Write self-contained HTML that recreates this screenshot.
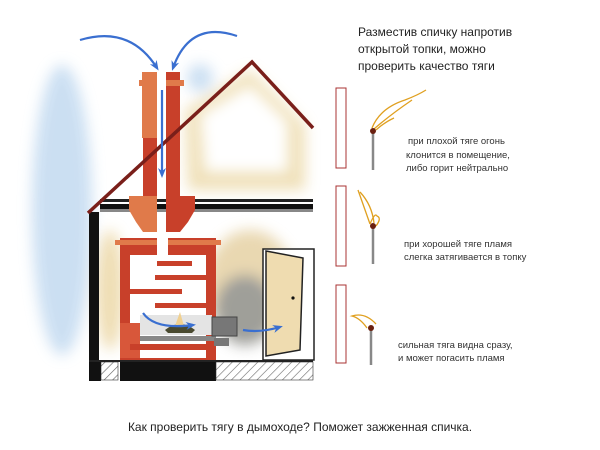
<!DOCTYPE html>
<html><head><meta charset="utf-8"><style>
html,body{margin:0;padding:0;background:#fff;}
svg{display:block}
text{font-family:"Liberation Sans",sans-serif;}
</style></head><body>
<svg width="600" height="450" viewBox="0 0 600 450" xmlns="http://www.w3.org/2000/svg">
<defs>
<filter id="b" x="-50%" y="-50%" width="200%" height="200%"><feGaussianBlur stdDeviation="7"/></filter>
<pattern id="h" width="6" height="6" patternUnits="userSpaceOnUse" patternTransform="rotate(45)"><rect width="6" height="6" fill="#fff"/><line x1="0" y1="0" x2="0" y2="6" stroke="#666" stroke-width="1.2"/></pattern>
<marker id="ar" markerUnits="userSpaceOnUse" markerWidth="10" markerHeight="10" refX="7" refY="5" orient="auto"><path d="M0,1 L10,5 L0,9 L3,5 Z" fill="#3a6fd0"/></marker>
</defs>
<g filter="url(#b)" opacity="0.95">
<ellipse cx="62" cy="210" rx="30" ry="145" fill="#c9def2"/>
<ellipse cx="200" cy="78" rx="13" ry="14" fill="#c9def2"/>
<path d="M185,110 L250,70 L305,125 L305,190 L188,190 Z" fill="#efdfb6"/>
<ellipse cx="110" cy="290" rx="14" ry="60" fill="#eedcb0"/>
<ellipse cx="250" cy="285" rx="45" ry="55" fill="#e8d6ad"/>
<ellipse cx="245" cy="310" rx="30" ry="35" fill="#9a9a94"/>
</g>
<path d="M200,115 L250,85 L288,122 L288,172 L205,172 Z" fill="#fff" filter="url(#b)"/>
<rect x="100" y="199" width="213" height="3" fill="#222"/>
<rect x="100" y="204" width="213" height="6" fill="#111"/>
<rect x="100" y="209" width="213" height="3" fill="#888"/>
<rect x="89" y="212" width="10" height="168" fill="#111"/>
<g fill="#c8402a">
<rect x="143" y="72" width="14" height="128"/>
<rect x="166" y="72" width="14" height="128"/>
<rect x="139" y="80" width="18" height="6" fill="#e07a4a"/>
<rect x="166" y="80" width="18" height="6" fill="#e07a4a"/>
<rect x="142" y="72" width="15" height="66" fill="#e07a4a"/>
<path d="M129,196 L157,196 L157,232 L143,232 L136,222 L129,210 Z" fill="#e07a4a"/>
<path d="M166,196 L195,196 L195,210 L188,222 L180,232 L166,232 Z"/>
<path d="M120,238 L157,238 L157,262 L168,262 L168,238 L216,238 L216,360 L120,360 Z"/>
<rect x="115" y="240" width="106" height="5" fill="#e07a4a"/>
</g>
<polyline points="88,213 252,62 313,128" fill="none" stroke="#7a1f1a" stroke-width="3.5"/>
<rect x="130" y="255" width="76" height="103" fill="#fff"/>
<rect x="157" y="238" width="11" height="24" fill="#fff"/>
<g fill="#c8402a">
<rect x="157" y="261" width="35" height="5"/>
<rect x="155" y="275" width="51" height="5"/>
<rect x="130" y="289" width="52" height="5"/>
<rect x="155" y="303" width="51" height="5"/>
<rect x="120" y="323" width="20" height="35" fill="#d8573a"/>
<rect x="130" y="344" width="86" height="6"/>
</g>
<rect x="140" y="336" width="76" height="5" fill="#888"/>
<rect x="140" y="315" width="72" height="20" fill="#e4e4e4"/>
<rect x="212" y="317" width="25" height="19" fill="#777" stroke="#444"/>
<rect x="214" y="338" width="15" height="8" fill="#777"/>
<path d="M165,330 Q180,318 195,330 L192,333 L168,333Z" fill="#4a4a30"/>
<path d="M175,326 L180,312 L184,326" fill="#f0d090"/>
<rect x="120" y="362" width="96" height="19" fill="#111"/>
<rect x="89" y="362" width="12" height="19" fill="#111"/>
<rect x="101" y="362" width="17" height="18" fill="url(#h)" stroke="#333" stroke-width="0.6"/>
<rect x="216" y="362" width="97" height="18" fill="url(#h)" stroke="#333" stroke-width="0.6"/>
<rect x="89" y="360" width="224" height="2" fill="#222"/>
<rect x="263" y="249" width="51" height="111" fill="#fff" stroke="#222" stroke-width="1.5"/>
<path d="M266,251 L303,258 L300,350 L266,356 Z" fill="#efdcb0" stroke="#222" stroke-width="1.5"/>
<circle cx="293" cy="298" r="1.6" fill="#111"/>
<g fill="none" stroke="#3a6fd0" stroke-width="2.2" marker-end="url(#ar)">
<path d="M80,40 Q130,25 157,68"/>
<path d="M237,36 Q190,20 173,68"/>
<path d="M162,90 L162,175"/>
<path d="M143,313 Q155,330 193,325"/>
<path d="M243,330 Q260,333 280,327"/>
</g>
<g fill="#fff" stroke="#a33" stroke-width="1">
<rect x="336" y="88" width="10" height="80"/>
<rect x="336" y="186" width="10" height="80"/>
<rect x="336" y="285" width="10" height="78"/>
</g>
<g stroke="#888" stroke-width="2.5">
<line x1="373" y1="132" x2="373" y2="170"/>
<line x1="373" y1="227" x2="373" y2="264"/>
<line x1="371" y1="329" x2="371" y2="365"/>
</g>
<g fill="none" stroke="#e0a020" stroke-width="1.3">
<path d="M372,128 Q380,108 405,100 Q418,95 426,90"/>
<path d="M374,129 Q390,115 412,100"/>
<path d="M376,130 Q385,122 394,118"/>
<path d="M370,224 Q375,212 377,216 Q382,218 376,226"/>
<path d="M370,224 Q365,210 358,190"/>
<path d="M374,223 Q372,205 360,192"/>
<path d="M367,328 Q360,318 352,316 Q365,312 376,324"/>
</g>
<circle cx="373" cy="131" r="3" fill="#6a2010"/>
<circle cx="373" cy="226" r="3" fill="#6a2010"/>
<circle cx="371" cy="328" r="3" fill="#6a2010"/>
<g font-size="12" fill="#222">
<text x="358" y="36">Разместив спичку напротив</text>
<text x="358" y="53">открытой топки, можно</text>
<text x="358" y="70">проверить качество тяги</text>
</g>
<g font-size="9.5" fill="#333">
<text x="408" y="144">при плохой тяге огонь</text>
<text x="406" y="158">клонится в помещение,</text>
<text x="406" y="171">либо горит нейтрально</text>
<text x="404" y="247">при хорошей тяге пламя</text>
<text x="404" y="260">слегка затягивается в топку</text>
<text x="398" y="348">сильная тяга видна сразу,</text>
<text x="398" y="361">и может погасить пламя</text>
</g>
<text x="300" y="431" font-size="12" fill="#222" text-anchor="middle">Как проверить тягу в дымоходе? Поможет зажженная спичка.</text>
</svg>
</body></html>
